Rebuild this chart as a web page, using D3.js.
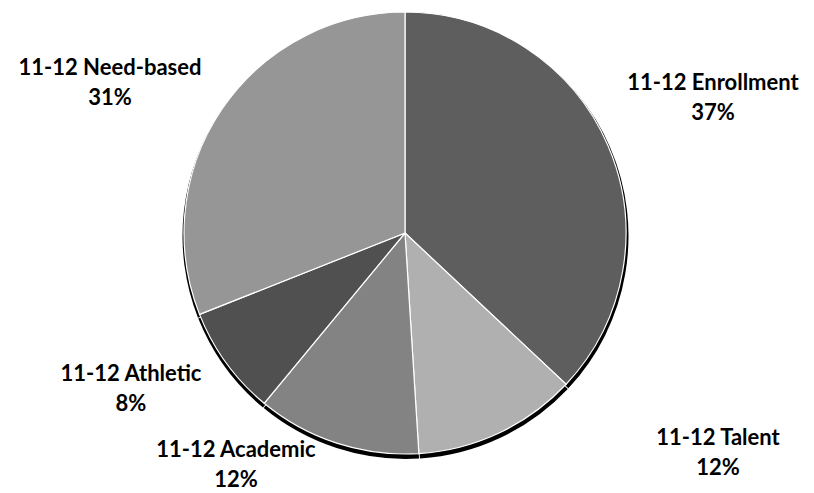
<!DOCTYPE html>
<html><head><meta charset="utf-8">
<script src="https://cdn.jsdelivr.net/npm/d3@7"></script>
<style>body{margin:0;background:#fff}svg{display:block}</style>
</head><body>
<script>
const categories = ["11-12 Enrollment","11-12 Talent","11-12 Academic","11-12 Athletic","11-12 Need-based"];
const values = [37, 12, 12, 8, 31];
const colors = ["#5e5e5e","#b0b0b0","#838383","#505050","#969696"];
const labelPos = [[713,82],[718,437],[236,449],[131,373],[110,67]];

const W=814,H=493, cx=405, cy=233, R=221;
const svg=d3.select("body").append("svg").attr("width",W).attr("height",H);
const g=svg.append("g").attr("transform",`translate(${cx},${cy})`);
const pie=d3.pie().sort(null).value(d=>d)(values);
const arc=d3.arc().innerRadius(0).outerRadius(R);
const shadowArc=d3.arc().innerRadius(0).outerRadius(R+2).padAngle(0.004);

g.selectAll("path.sh").data(pie).join("path").attr("class","sh")
  .attr("d",shadowArc).attr("fill","#000").attr("transform","translate(0.5,3)");
g.selectAll("path.sl").data(pie).join("path").attr("class","sl")
  .attr("d",arc).attr("fill",(d,i)=>colors[i]).attr("stroke","#fff").attr("stroke-width",1.2);

const total=d3.sum(values);
const lab=svg.selectAll("text").data(pie).join("text")
  .attr("text-anchor","middle")
  .attr("font-family","Lato, 'Open Sans', sans-serif").attr("font-weight","bold")
  .attr("font-size",22).attr("fill","#000");
lab.each(function(d,i){
  const t=d3.select(this);
  const [x,y]=labelPos[i];
  t.append("tspan").attr("x",x).attr("y",y+8).text(categories[i]);
  t.append("tspan").attr("x",x).attr("y",y+38).text(Math.round(d.value/total*100)+"%");
});
</script>
</body></html>
